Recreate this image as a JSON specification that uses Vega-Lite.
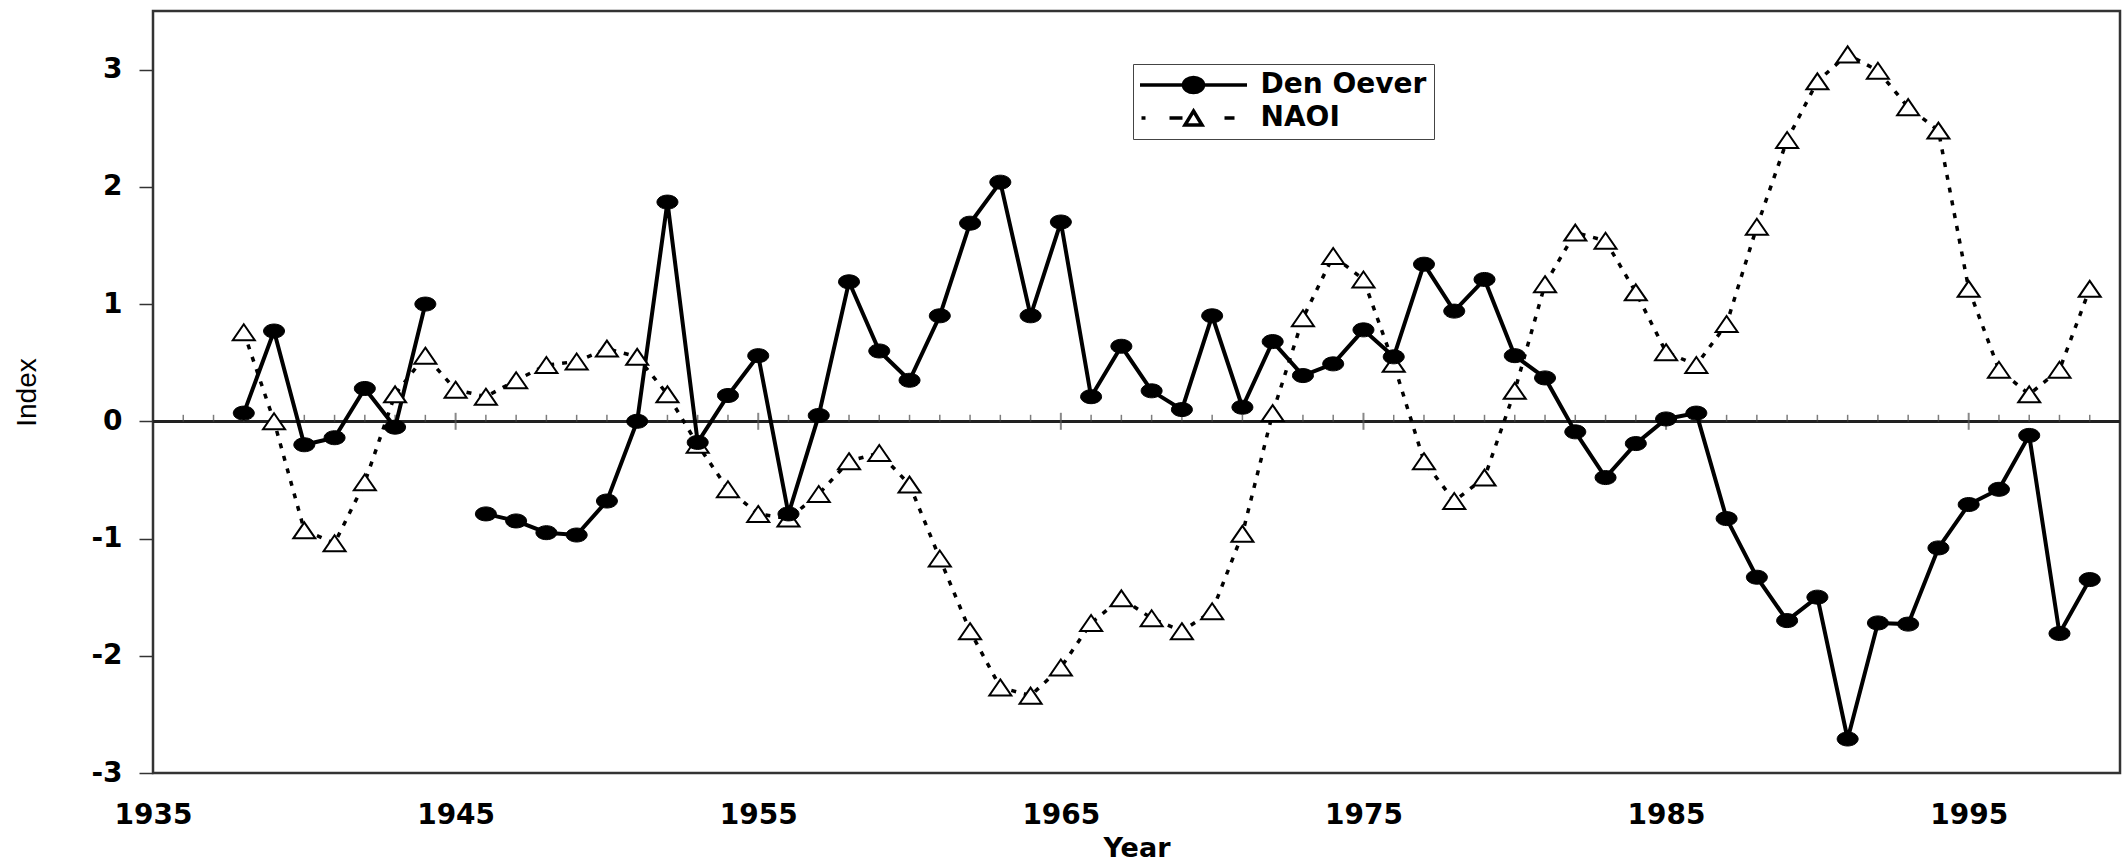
{
  "$schema": "https://vega.github.io/schema/vega-lite/v6.json",
  "width": 1967,
  "height": 762,
  "autosize": {"type": "none"},
  "padding": {"left": 153, "top": 11, "right": 8, "bottom": 89},
  "background": "white",
  "config": {
    "view": {"stroke": "#333", "strokeWidth": 2.5},
    "axis": {"labelFont": "DejaVu Sans", "labelFontWeight": "bold", "labelFontSize": 28, "labelColor": "black", "domain": false, "grid": false, "labelFlush": false, "titleColor": "black"},
    "legend": {"labelFont": "DejaVu Sans", "labelFontWeight": "bold", "labelFontSize": 28, "labelColor": "black", "labelLimit": 400}
  },
  "datasets": {
    "ticks": [
      {"year": 1936}, {"year": 1937}, {"year": 1938}, {"year": 1939}, {"year": 1940}, {"year": 1941}, {"year": 1942}, {"year": 1943}, {"year": 1944}, {"year": 1945}, {"year": 1946}, {"year": 1947}, {"year": 1948}, {"year": 1949}, {"year": 1950}, {"year": 1951}, {"year": 1952}, {"year": 1953}, {"year": 1954}, {"year": 1955}, {"year": 1956}, {"year": 1957}, {"year": 1958}, {"year": 1959}, {"year": 1960}, {"year": 1961}, {"year": 1962}, {"year": 1963}, {"year": 1964}, {"year": 1965}, {"year": 1966}, {"year": 1967}, {"year": 1968}, {"year": 1969}, {"year": 1970}, {"year": 1971}, {"year": 1972}, {"year": 1973}, {"year": 1974}, {"year": 1975}, {"year": 1976}, {"year": 1977}, {"year": 1978}, {"year": 1979}, {"year": 1980}, {"year": 1981}, {"year": 1982}, {"year": 1983}, {"year": 1984}, {"year": 1985}, {"year": 1986}, {"year": 1987}, {"year": 1988}, {"year": 1989}, {"year": 1990}, {"year": 1991}, {"year": 1992}, {"year": 1993}, {"year": 1994}, {"year": 1995}, {"year": 1996}, {"year": 1997}, {"year": 1998}, {"year": 1999}
    ]
  },
  "data": {
    "values": [
      {"year": 1938, "Den Oever": 0.07, "NAOI": 0.76},
      {"year": 1939, "Den Oever": 0.77, "NAOI": 0.0},
      {"year": 1940, "Den Oever": -0.2, "NAOI": -0.93},
      {"year": 1941, "Den Oever": -0.14, "NAOI": -1.04},
      {"year": 1942, "Den Oever": 0.28, "NAOI": -0.52},
      {"year": 1943, "Den Oever": -0.05, "NAOI": 0.23},
      {"year": 1944, "Den Oever": 1.0, "NAOI": 0.56},
      {"year": 1945, "Den Oever": null, "NAOI": 0.27},
      {"year": 1946, "Den Oever": -0.79, "NAOI": 0.21},
      {"year": 1947, "Den Oever": -0.85, "NAOI": 0.35},
      {"year": 1948, "Den Oever": -0.95, "NAOI": 0.48},
      {"year": 1949, "Den Oever": -0.97, "NAOI": 0.51},
      {"year": 1950, "Den Oever": -0.68, "NAOI": 0.62},
      {"year": 1951, "Den Oever": 0.0, "NAOI": 0.55},
      {"year": 1952, "Den Oever": 1.87, "NAOI": 0.23},
      {"year": 1953, "Den Oever": -0.18, "NAOI": -0.2},
      {"year": 1954, "Den Oever": 0.22, "NAOI": -0.58},
      {"year": 1955, "Den Oever": 0.56, "NAOI": -0.79},
      {"year": 1956, "Den Oever": -0.79, "NAOI": -0.83},
      {"year": 1957, "Den Oever": 0.05, "NAOI": -0.62},
      {"year": 1958, "Den Oever": 1.19, "NAOI": -0.34},
      {"year": 1959, "Den Oever": 0.6, "NAOI": -0.27},
      {"year": 1960, "Den Oever": 0.35, "NAOI": -0.54},
      {"year": 1961, "Den Oever": 0.9, "NAOI": -1.17},
      {"year": 1962, "Den Oever": 1.69, "NAOI": -1.79},
      {"year": 1963, "Den Oever": 2.04, "NAOI": -2.27},
      {"year": 1964, "Den Oever": 0.9, "NAOI": -2.34},
      {"year": 1965, "Den Oever": 1.7, "NAOI": -2.1},
      {"year": 1966, "Den Oever": 0.21, "NAOI": -1.72},
      {"year": 1967, "Den Oever": 0.64, "NAOI": -1.51},
      {"year": 1968, "Den Oever": 0.26, "NAOI": -1.68},
      {"year": 1969, "Den Oever": 0.1, "NAOI": -1.79},
      {"year": 1970, "Den Oever": 0.9, "NAOI": -1.62},
      {"year": 1971, "Den Oever": 0.12, "NAOI": -0.96},
      {"year": 1972, "Den Oever": 0.68, "NAOI": 0.07},
      {"year": 1973, "Den Oever": 0.39, "NAOI": 0.88},
      {"year": 1974, "Den Oever": 0.49, "NAOI": 1.41},
      {"year": 1975, "Den Oever": 0.78, "NAOI": 1.21},
      {"year": 1976, "Den Oever": 0.55, "NAOI": 0.49},
      {"year": 1977, "Den Oever": 1.34, "NAOI": -0.34},
      {"year": 1978, "Den Oever": 0.94, "NAOI": -0.68},
      {"year": 1979, "Den Oever": 1.21, "NAOI": -0.48},
      {"year": 1980, "Den Oever": 0.56, "NAOI": 0.26},
      {"year": 1981, "Den Oever": 0.37, "NAOI": 1.17},
      {"year": 1982, "Den Oever": -0.09, "NAOI": 1.61},
      {"year": 1983, "Den Oever": -0.48, "NAOI": 1.54},
      {"year": 1984, "Den Oever": -0.19, "NAOI": 1.1},
      {"year": 1985, "Den Oever": 0.02, "NAOI": 0.59},
      {"year": 1986, "Den Oever": 0.07, "NAOI": 0.48},
      {"year": 1987, "Den Oever": -0.83, "NAOI": 0.83},
      {"year": 1988, "Den Oever": -1.33, "NAOI": 1.66},
      {"year": 1989, "Den Oever": -1.7, "NAOI": 2.4},
      {"year": 1990, "Den Oever": -1.5, "NAOI": 2.9},
      {"year": 1991, "Den Oever": -2.71, "NAOI": 3.13},
      {"year": 1992, "Den Oever": -1.72, "NAOI": 2.99},
      {"year": 1993, "Den Oever": -1.73, "NAOI": 2.68},
      {"year": 1994, "Den Oever": -1.08, "NAOI": 2.48},
      {"year": 1995, "Den Oever": -0.71, "NAOI": 1.13},
      {"year": 1996, "Den Oever": -0.58, "NAOI": 0.44},
      {"year": 1997, "Den Oever": -0.12, "NAOI": 0.23},
      {"year": 1998, "Den Oever": -1.81, "NAOI": 0.44},
      {"year": 1999, "Den Oever": -1.35, "NAOI": 1.13}
    ]
  },
  "encoding": {
    "x": {
      "field": "year", "type": "quantitative",
      "scale": {"domain": [1935, 2000], "nice": false, "zero": false},
      "axis": {"values": [1935, 1945, 1955, 1965, 1975, 1985, 1995], "format": "d", "ticks": false, "labelPadding": 28, "title": "Year", "titleFont": "DejaVu Sans", "titleFontWeight": "bold", "titleFontSize": 27, "titleY": 62, "titleBaseline": "top"}
    }
  },
  "layer": [
    {
      "mark": {"type": "rule", "color": "#222", "strokeWidth": 2},
      "encoding": {
        "x": null,
        "y": {"datum": 0, "type": "quantitative", "scale": {"domain": [-3, 3.5], "nice": false, "zero": false},
          "axis": {"values": [-3, -2, -1, 0, 1, 2, 3], "labelExpr": "'' + datum.value", "tickSize": 14, "tickColor": "#333", "tickWidth": 1.5, "labelPadding": 17, "title": "Index", "titleFont": "Liberation Sans", "titleFontWeight": "normal", "titleFontSize": 28, "titleX": -126, "titleY": 381, "titleAngle": 270, "titleAlign": "center", "titleBaseline": "middle"}}
      }
    },
    {
      "data": {"name": "ticks"},
      "transform": [{"filter": "datum.year % 10 != 5"}],
      "mark": {"type": "tick", "orient": "vertical", "color": "#444", "size": 7, "thickness": 1.5, "yOffset": -3},
      "encoding": {"y": {"datum": 0, "type": "quantitative"}}
    },
    {
      "data": {"name": "ticks"},
      "transform": [{"filter": "datum.year % 10 == 5"}],
      "mark": {"type": "tick", "orient": "vertical", "color": "#555", "size": 17, "thickness": 2},
      "encoding": {"y": {"datum": 0, "type": "quantitative"}}
    },
    {
      "mark": {"type": "line", "color": "black", "strokeWidth": 3.5, "strokeDash": [5, 8]},
      "encoding": {"y": {"field": "NAOI", "type": "quantitative"}}
    },
    {
      "mark": {"type": "line", "color": "black", "strokeWidth": 4, "invalid": "break-paths-show-domains"},
      "encoding": {"y": {"field": "Den Oever", "type": "quantitative"}}
    },
    {
      "mark": {"type": "point", "shape": "M0,-0.8L1.1,0.8L-1.1,0.8Z", "size": 400, "filled": true, "fill": "white", "stroke": "black", "strokeWidth": 2, "opacity": 1},
      "encoding": {"y": {"field": "NAOI", "type": "quantitative"}}
    },
    {
      "mark": {"type": "point", "shape": "M-1.05,0A1.05,0.7 0 1,1 1.05,0A1.05,0.7 0 1,1 -1.05,0Z", "size": 400, "filled": true, "fill": "black", "stroke": "black", "strokeWidth": 1, "opacity": 1},
      "encoding": {"y": {"field": "Den Oever", "type": "quantitative"}}
    },
    {
      "transform": [{"filter": "datum.year == 1938"}, {"fold": ["Den Oever", "NAOI"], "as": ["series", "value"]}],
      "mark": {"type": "point", "filled": true, "stroke": "black", "strokeWidth": 3.5, "opacity": 0},
      "encoding": {
        "y": {"field": "value", "type": "quantitative"},
        "shape": {"field": "series", "type": "nominal",
          "scale": {"domain": ["Den Oever", "NAOI"], "range": ["M-5.35,0H5.35M-1,0A1,0.75 0 1,1 1,0A1,0.75 0 1,1 -1,0Z", "M-5.2,0H-4.8M-2.4,0H-1.1M0,-0.7L0.85,0.7L-0.85,0.7ZM3.1,0H4.1"]},
          "legend": {"title": null, "orient": "none", "legendX": 980, "legendY": 53, "strokeColor": "#444", "padding": 7, "rowPadding": 4, "symbolSize": 400, "symbolOffset": 39.5, "labelOffset": 53, "labelLimit": 400, "symbolStrokeColor": "black", "symbolStrokeWidth": 3.5,
            "encode": {"symbols": {"update": {"opacity": {"value": 1}, "stroke": {"value": "black"}, "strokeWidth": {"value": 3.5}}}}}},
        "fill": {"field": "series", "type": "nominal",
          "scale": {"domain": ["Den Oever", "NAOI"], "range": ["black", "white"]},
          "legend": {"title": null, "orient": "none", "legendX": 980, "legendY": 53, "strokeColor": "#444", "padding": 7, "rowPadding": 4, "symbolSize": 400, "symbolOffset": 39.5, "labelOffset": 53, "labelLimit": 400, "symbolStrokeColor": "black", "symbolStrokeWidth": 3.5,
            "encode": {"symbols": {"update": {"opacity": {"value": 1}, "stroke": {"value": "black"}, "strokeWidth": {"value": 3.5}}}}}}
      }
    }
  ]
}
